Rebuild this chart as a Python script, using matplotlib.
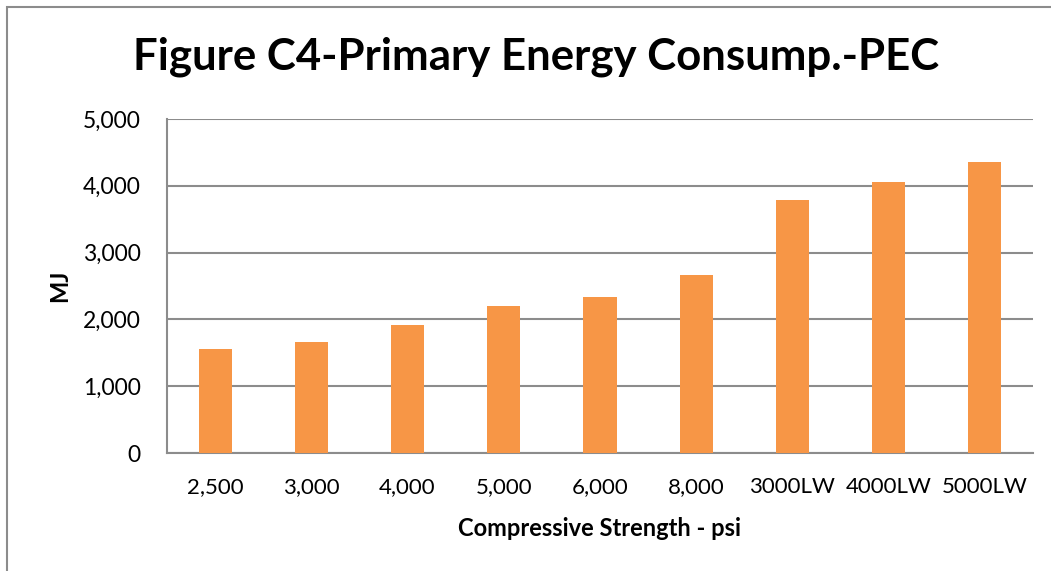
import matplotlib.pyplot as plt
from matplotlib.patches import Rectangle

# Dữ liệu
categories = ['2,500', '3,000', '4,000', '5,000', '6,000', '8,000', '3000LW', '4000LW', '5000LW']
pec_mj = [1555, 1660, 1915, 2205, 2330, 2665, 3790, 4055, 4360]
yticks = [0, 1000, 2000, 3000, 4000, 5000]

plt.rcParams['font.family'] = ['Lato', 'DejaVu Sans']

fig = plt.figure(figsize=(10.51, 5.71), dpi=100)
ax = fig.add_axes([167 / 1051, 1 - 453 / 571, 866 / 1051, 334 / 571])

# Khung viền quanh toàn biểu đồ
fig.patches.append(Rectangle((7 / 1051, -0.1), 1.2, 1 - 7 / 571 + 0.1, transform=fig.transFigure,
                             fill=False, edgecolor='#8c8c8c', linewidth=1.5))

x = range(len(categories))
ax.bar(x, pec_mj, width=0.345, color='#F79646', zorder=3)

ax.set_xlim(-0.5, len(categories) - 0.5)
ax.set_ylim(0, 5000)
ax.set_yticks(yticks)
ax.set_yticklabels([f'{v:,}' for v in yticks], fontsize=16.5)
ax.set_xticks(list(x))
ax.set_xticklabels(categories, fontsize=16)
ax.tick_params(length=0, pad=17)
ax.tick_params(axis='y', pad=19)
ax.yaxis.grid(True, color='#8c8c8c', linewidth=1.5, zorder=0)

for s in ['top', 'right']:
    ax.spines[s].set_visible(False)
for s in ['left', 'bottom']:
    ax.spines[s].set_color('#8c8c8c')
    ax.spines[s].set_linewidth(1.5)

fig.text(536 / 1051, 1 - 57 / 571, 'Figure C4-Primary Energy Consump.-PEC', ha='center', va='center',
         fontsize=31.5, fontweight='bold')
fig.text(600 / 1051, 1 - 529 / 571, 'Compressive Strength - psi', ha='center', va='center',
         fontsize=17, fontweight='bold')
fig.text(60 / 1051, 1 - 286 / 571, 'MJ', ha='center', va='center', rotation=90,
         fontsize=17, fontweight='bold')

fig.savefig('out.png', dpi=100)
